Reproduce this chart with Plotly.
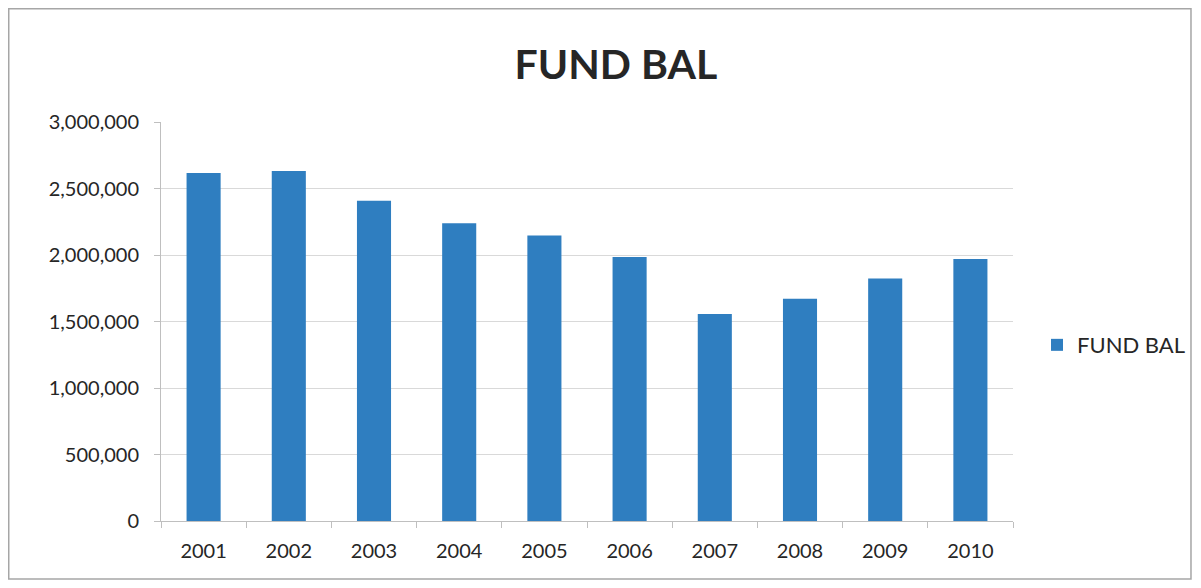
import plotly.graph_objects as go

years = ["2001", "2002", "2003", "2004", "2005", "2006", "2007", "2008", "2009", "2010"]
fund_bal = [2617000, 2632000, 2408000, 2238000, 2146000, 1985000, 1557000, 1671000, 1824000, 1970000]
y_ticks = [0, 500000, 1000000, 1500000, 2000000, 2500000, 3000000]

FONT = "Lato, Carlito, 'Open Sans', sans-serif"

fig = go.Figure()
fig.add_trace(go.Bar(
    x=years, y=fund_bal, name="FUND BAL",
    marker=dict(color="#2F7EC0", line=dict(width=0)),
    showlegend=True,
))

fig.update_layout(
    width=1185, height=572,
    paper_bgcolor="white", plot_bgcolor="white",
    margin=dict(l=153, r=180, t=114, b=59, autoexpand=False),
    bargap=0.6,
    title=dict(text="<b>FUND BAL</b>", x=0.513, xanchor="center", y=0.9003, yanchor="middle",
               font=dict(family=FONT, size=41, color="#262626")),
    font=dict(family=FONT, color="#262626"),
    showlegend=True,
    legend=dict(x=1.0282, y=0.441, xanchor="left", yanchor="middle",
                font=dict(family=FONT, size=22, color="#262626"),
                bgcolor="rgba(0,0,0,0)", itemwidth=30),
    xaxis=dict(type="category", showline=True, linecolor="#BFBFBF", linewidth=1,
               ticks="outside", tickson="boundaries", ticklen=6, tickcolor="#BFBFBF",
               ticklabelstandoff=12,
               tickfont=dict(family=FONT, size=20, color="#262626"), showgrid=False),
    yaxis=dict(range=[0, 3000000], tickvals=y_ticks, tickformat=",",
               showline=True, linecolor="#BFBFBF", linewidth=1,
               ticks="outside", ticklen=6, tickcolor="#BFBFBF", ticklabelstandoff=11,
               showgrid=True, gridcolor="#D9D9D9", gridwidth=1, zeroline=False,
               tickfont=dict(family=FONT, size=20, color="#262626")),
    shapes=[dict(type="rect", xref="paper", yref="paper",
                 x0=-0.1787, x1=1.2089, y0=-0.1454, y1=1.2838,
                 line=dict(color="#A6A6A6", width=1.5), fillcolor="rgba(0,0,0,0)", layer="below")],
)

fig.write_html("out.html")
